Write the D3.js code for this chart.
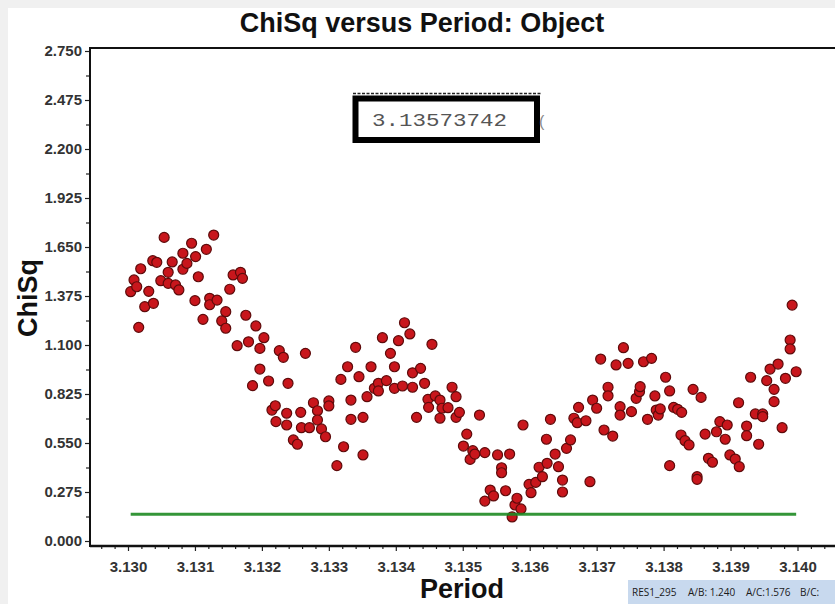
<!DOCTYPE html>
<html>
<head>
<meta charset="utf-8">
<script src="https://cdn.jsdelivr.net/npm/d3@7"></script>
<style>
  html, body { margin: 0; padding: 0; background: #f0f0f0; overflow: hidden; }
  svg { display: block; }
</style>
</head>
<body>
<svg id="chart" width="835" height="604"></svg>
<script>
// Trial periods (days) and the chi-square value computed for each
const periods = [
  3.13004, 3.13009, 3.13013, 3.13016, 3.13019, 3.13025, 3.13031, 3.13037, 3.13038, 3.13043,
  3.13049, 3.13054, 3.13060, 3.13060, 3.13066, 3.13071, 3.13076, 3.13082, 3.13082, 3.13088,
  3.13095, 3.13100, 3.13101, 3.13105, 3.13112, 3.13117, 3.13122, 3.13122, 3.13128, 3.13133,
  3.13140, 3.13146, 3.13146, 3.13152, 3.13157, 3.13163, 3.13168, 3.13171, 3.13176, 3.13180,
  3.13186, 3.13191, 3.13197, 3.13197, 3.13203, 3.13210, 3.13215, 3.13220, 3.13221, 3.13226,
  3.13232, 3.13237, 3.13237, 3.13239,
  3.13247, 3.13253, 3.13258, 3.13259, 3.13265, 3.13271, 3.13277, 3.13283, 3.13283, 3.13289,
  3.13295, 3.13300, 3.13300, 3.13312, 3.13318, 3.13322, 3.13328, 3.13333, 3.13333, 3.13340,
  3.13345, 3.13351, 3.13351, 3.13357, 3.13363, 3.13368, 3.13374, 3.13374, 3.13380, 3.13386,
  3.13392, 3.13398, 3.13398, 3.13404, 3.13410, 3.13413, 3.13421, 3.13425, 3.13425, 3.13431,
  3.13437, 3.13443, 3.13448, 3.13449, 3.13454, 3.13459, 3.13466, 3.13466, 3.13469, 3.13478,
  3.13484, 3.13490, 3.13490, 3.13495, 3.13501, 3.13506, 3.13511, 3.13515, 3.13518, 3.13525,
  3.13533, 3.13533, 3.13541, 3.13546, 3.13552, 3.13558, 3.13558, 3.13564, 3.13570, 3.13573742,
  3.13578, 3.13581, 3.13587, 3.13590, 3.13599, 3.13602, 3.13609, 3.13614, 3.13619, 3.13625,
  3.13626, 3.13631, 3.13638, 3.13643, 3.13649, 3.13649, 3.13655, 3.13661, 3.13666, 3.13671,
  3.13673, 3.13684, 3.13690, 3.13694, 3.13700, 3.13706, 3.13711, 3.13717, 3.13717, 3.13724,
  3.13729, 3.13735, 3.13735, 3.13740, 3.13747, 3.13752, 3.13759, 3.13764, 3.13765, 3.13770,
  3.13776, 3.13782, 3.13787, 3.13789, 3.13792, 3.13795,
  3.13803, 3.13809, 3.13809, 3.13815, 3.13821, 3.13826, 3.13827, 3.13832, 3.13838, 3.13844,
  3.13850, 3.13850, 3.13856, 3.13862, 3.13867, 3.13873, 3.13879, 3.13884, 3.13892, 3.13895,
  3.13899, 3.13907, 3.13912, 3.13913, 3.13924, 3.13924, 3.13930, 3.13937, 3.13942, 3.13948,
  3.13948, 3.13954, 3.13959, 3.13965, 3.13965, 3.13971, 3.13977, 3.13982, 3.13989, 3.13989,
  3.13992, 3.13998
];
const chisq = [
  1.399, 1.465, 1.427, 1.199, 1.528, 1.315, 1.401, 1.573, 1.334, 1.564,
  1.461, 1.704, 1.508, 1.446, 1.566, 1.437, 1.409, 1.615, 1.525, 1.558,
  1.671, 1.349, 1.596, 1.483, 1.244, 1.637, 1.362, 1.326, 1.717, 1.352,
  1.235, 1.194, 1.287, 1.413, 1.493, 1.096, 1.508, 1.474, 1.267, 1.118,
  0.872, 1.207, 1.081, 0.965, 1.141, 0.898, 0.735, 0.759, 0.670, 1.068,
  1.031, 0.717, 0.651, 0.885,
  0.567, 0.543, 0.722, 0.636, 1.053, 0.636, 0.776, 0.731, 0.679, 0.629,
  0.585, 0.786, 0.758, 0.423, 0.907, 0.529, 0.978, 0.791, 0.683, 1.087,
  0.922, 0.694, 0.483, 0.810, 0.978, 0.857, 0.885, 0.842, 1.141, 0.900,
  1.053, 0.978, 0.857, 1.124, 0.870, 1.225, 1.162, 0.944, 0.863, 0.694,
  0.969, 0.885, 0.795, 0.750, 1.104, 0.814, 0.791, 0.689, 0.745, 0.748,
  0.863, 0.810, 0.694, 0.722, 0.533, 0.600, 0.458, 0.507, 0.488, 0.707,
  0.496, 0.224, 0.286, 0.253, 0.483, 0.411, 0.383, 0.282, 0.488, 0.135,
  0.202, 0.240, 0.180, 0.651, 0.318, 0.271, 0.329, 0.414, 0.361, 0.571,
  0.436, 0.683, 0.488, 0.417, 0.342, 0.275, 0.520, 0.567, 0.689, 0.664,
  0.750, 0.675, 0.333, 0.791, 0.745, 1.021, 0.623, 0.863, 0.815, 0.589,
  0.988, 0.754, 0.707, 1.085, 0.997, 0.726, 0.801, 0.838, 0.866, 1.006,
  0.683, 1.025, 0.814, 0.735, 0.707, 0.741,
  0.919, 0.842, 0.423, 0.750, 0.739, 0.595, 0.722, 0.563, 0.539, 0.851,
  0.361, 0.346, 0.806, 0.600, 0.464, 0.442, 0.613, 0.670, 0.571, 0.651,
  0.483, 0.460, 0.776, 0.417, 0.645, 0.591, 0.919, 0.713, 0.543, 0.713,
  0.698, 0.900, 0.965, 0.851, 0.782, 0.993, 0.636, 0.913, 1.128, 1.078,
  1.324, 0.950
];

// Axis tick values
const xTickValues = [3.130, 3.131, 3.132, 3.133, 3.134, 3.135, 3.136, 3.137, 3.138, 3.139, 3.140];
const yTickValues = [0.000, 0.275, 0.550, 0.825, 1.100, 1.375, 1.650, 1.925, 2.200, 2.475, 2.750];

// Best period found and the reference chi-square level
const bestPeriod = 3.13573742;
const thresholdChiSq = 0.150;
const thresholdRange = [3.13004, 3.13998];

// Status bar entries
const statusItems = ["RES1_295", "A/B: 1.240", "A/C:1.576", "B/C:"];

const titleText = "ChiSq versus Period: Object";
const xLabel = "Period";
const yLabel = "ChiSq";

const W = 835, H = 604;
const frame = { left: 90, right: 835, top: 48, bottom: 546 };
const svg = d3.select("#chart");
const font = "'Liberation Sans', Arial, sans-serif";

// white canvas area
svg.append("rect").attr("x", 8).attr("y", 8).attr("width", W - 8).attr("height", H - 8).attr("fill", "#ffffff");

const x = d3.scaleLinear().domain([3.130, 3.140]).range([128, 797.5]);
const y = d3.scaleLinear().domain([0, 2.75]).range([541, 51]);

// title
svg.append("text")
  .attr("x", 422).attr("y", 32)
  .attr("text-anchor", "middle")
  .attr("font-family", font).attr("font-weight", "bold").attr("font-size", 27)
  .attr("fill", "#111")
  .text(titleText);

// axis titles
svg.append("text")
  .attr("transform", "translate(37,298) rotate(-90)")
  .attr("text-anchor", "middle")
  .attr("font-family", font).attr("font-weight", "bold").attr("font-size", 27)
  .attr("fill", "#111")
  .text(yLabel);

svg.append("text")
  .attr("x", 462).attr("y", 598)
  .attr("text-anchor", "middle")
  .attr("font-family", font).attr("font-weight", "bold").attr("font-size", 27)
  .attr("fill", "#111")
  .text(xLabel);

// minor tick positions
const yMinor = yTickValues.slice(0, -1).map(v => v + 0.1375);
const xMinor = d3.range(-2, 56).map(i => 3.1296 + i * 0.0002)
  .filter(v => x(v) > frame.left + 2 && x(v) < frame.right)
  .filter(v => !xTickValues.some(t => Math.abs(t - v) < 1e-7));

function styleAxis(g) {
  g.select(".domain").remove();
  g.selectAll(".tick line").attr("stroke", "#222").attr("stroke-width", 1.2);
  g.selectAll(".tick text")
    .attr("font-family", font).attr("font-weight", "bold").attr("font-size", 15)
    .attr("fill", "#333");
}

svg.append("g").attr("transform", `translate(${frame.left},0)`)
  .call(d3.axisLeft(y).tickValues(yTickValues).tickFormat(d3.format(".3f")).tickSize(5).tickPadding(3))
  .call(styleAxis);
svg.append("g").attr("transform", `translate(${frame.left},0)`)
  .call(d3.axisLeft(y).tickValues(yMinor).tickFormat("").tickSize(4))
  .call(styleAxis);

svg.append("g").attr("transform", `translate(0,${frame.bottom})`)
  .call(d3.axisBottom(x).tickValues(xTickValues).tickFormat(d3.format(".3f")).tickSize(5).tickPadding(10))
  .call(styleAxis);
svg.append("g").attr("transform", `translate(0,${frame.bottom})`)
  .call(d3.axisBottom(x).tickValues(xMinor).tickFormat("").tickSize(3))
  .call(styleAxis);

// plot frame
const frameG = svg.append("g").attr("stroke", "#111").attr("stroke-width", 2).attr("fill", "none");
frameG.append("line").attr("x1", frame.left).attr("x2", frame.right).attr("y1", frame.top).attr("y2", frame.top);
frameG.append("line").attr("x1", frame.left).attr("x2", frame.left).attr("y1", frame.top - 1).attr("y2", frame.bottom + 1);
frameG.append("line").attr("x1", frame.left).attr("x2", frame.right).attr("y1", frame.bottom).attr("y2", frame.bottom).attr("stroke-width", 2.5);

// data points
const pts = periods.map((p, i) => ({ p, c: chisq[i] }));
svg.append("g").selectAll("circle").data(pts).join("circle")
  .attr("cx", d => x(d.p)).attr("cy", d => y(d.c))
  .attr("r", 5)
  .attr("fill", "#c8161c")
  .attr("stroke", "#5e0b0b")
  .attr("stroke-width", 1.2);

// reference level
svg.append("line")
  .attr("x1", x(thresholdRange[0])).attr("x2", x(thresholdRange[1]))
  .attr("y1", y(thresholdChiSq)).attr("y2", y(thresholdChiSq))
  .attr("stroke", "#1e8a22").attr("stroke-width", 3).attr("stroke-opacity", 0.9);

// best-period readout box
const box = svg.append("g");
box.append("line")
  .attr("x1", 353).attr("x2", 541).attr("y1", 93.5).attr("y2", 93.5)
  .attr("stroke", "#222").attr("stroke-width", 1.5).attr("stroke-dasharray", "3,1.5");
box.append("rect")
  .attr("x", 355.5).attr("y", 98.5).attr("width", 181.5).attr("height", 41.5)
  .attr("fill", "#fff").attr("stroke", "#000").attr("stroke-width", 6);
box.append("text")
  .attr("x", 372).attr("y", 125.5)
  .attr("font-family", "'Liberation Mono', 'DejaVu Sans Mono', monospace")
  .attr("font-size", 19)
  .attr("textLength", 135).attr("lengthAdjust", "spacingAndGlyphs")
  .attr("fill", "#555")
  .text(bestPeriod.toFixed(8));
box.append("text")
  .attr("x", 539).attr("y", 127)
  .attr("font-family", font).attr("font-size", 16)
  .attr("fill", "#888")
  .text("(");

// status bar
const bar = svg.append("g");
bar.append("rect").attr("x", 628).attr("y", 580).attr("width", W - 628).attr("height", H - 580).attr("fill", "#c8d9ee");
const statusX = [632, 688, 746, 800];
bar.selectAll("text").data(statusItems).join("text")
  .attr("x", (d, i) => statusX[i]).attr("y", 596)
  .attr("font-family", "'Open Sans', 'Noto Sans', sans-serif")
  .attr("font-size", 10)
  .attr("fill", "#1a1a1a")
  .text(d => d);
</script>
</body>
</html>
